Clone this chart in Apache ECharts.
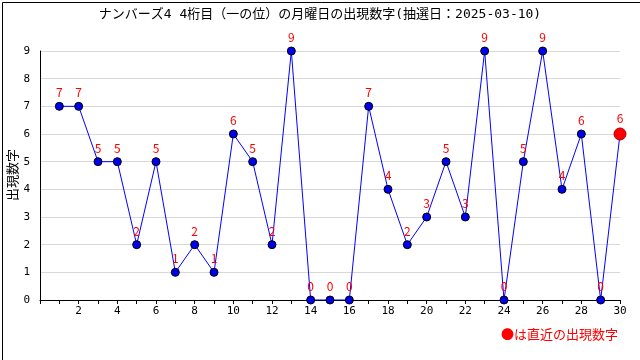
<!DOCTYPE html>
<html><head><meta charset="utf-8">
<script src="https://cdn.jsdelivr.net/npm/echarts@6/dist/echarts.min.js"></script>
<style>html,body{margin:0;padding:0;background:#fff}#c{width:640px;height:360px}</style>
</head><body><div id="c"></div>
<script>
const titleText = 'ナンバーズ4 4桁目（一の位）の月曜日の出現数字(抽選日：2025-03-10)';
const yAxisName = '出現数字';
const legendNote = '●は直近の出現数字';
const drawIndex = [1,2,3,4,5,6,7,8,9,10,11,12,13,14,15,16,17,18,19,20,21,22,23,24,25,26,27,28,29,30];
const digits = [7,7,5,5,2,5,1,2,1,6,5,2,9,0,0,0,7,4,2,3,5,3,9,0,5,9,4,6,0,6];

const chart = echarts.init(document.getElementById('c'));
const lastIdx = digits.length - 1;
const data = drawIndex.map((x, i) => {
  const d = { value: [x, digits[i]] };
  if (i === lastIdx) {
    d.symbolSize = 12;
    d.itemStyle = { color: '#ff0000', borderColor: '#aa0000', borderWidth: 1 };
  }
  return d;
});
const font = '"DejaVu Sans Mono", "Noto Sans CJK JP", monospace';
const cjk = '"Noto Sans CJK JP", sans-serif';
chart.setOption({
  animation: false,
  backgroundColor: '#fff',
  textStyle: { fontFamily: font },
  title: {
    text: titleText, left: 'center', top: 3,
    textStyle: { fontSize: 13, fontWeight: 'normal', color: '#000', fontFamily: font }
  },
  grid: { left: 40, right: 20, top: 51, bottom: 60, containLabel: false, outerBoundsMode: 'none' },
  xAxis: {
    type: 'value', min: 0, max: 30, interval: 1,
    axisLine: { lineStyle: { color: '#000', width: 1 } },
    axisTick: { show: true, length: 4, lineStyle: { color: '#000' } },
    axisLabel: { color: '#000', fontSize: 11, margin: 6, fontFamily: font,
      formatter: v => (v > 0 && v % 2 === 0) ? String(v) : '' },
    splitLine: { show: false }
  },
  yAxis: {
    type: 'value', min: 0, max: 9, interval: 1,
    axisLine: { show: true, lineStyle: { color: '#000', width: 1 } },
    axisTick: { show: false },
    axisLabel: { color: '#000', fontSize: 11, margin: 10, fontFamily: font },
    splitLine: { show: true, lineStyle: { color: '#d8d8d8', width: 1 } }
  },
  series: [{
    type: 'line',
    data: data,
    symbol: 'circle', symbolSize: 8,
    lineStyle: { color: '#0000ff', width: 1 },
    itemStyle: { color: '#0000ee', borderColor: '#000', borderWidth: 1 },
    label: { show: true, position: 'top', distance: 3, color: '#ff0000', fontSize: 12,
      fontFamily: cjk, formatter: p => String(p.value[1]) },
    z: 3
  }],
  graphic: [
    { type: 'rect', left: 0, top: 0, shape: { width: 639, height: 359 },
      style: { fill: 'none', stroke: '#000', lineWidth: 1 }, silent: true, z: 10 },
    { type: 'text', x: 12, y: 175, rotation: Math.PI / 2,
      style: { text: yAxisName, fill: '#000', font: '13px ' + cjk,
        textAlign: 'center', textVerticalAlign: 'middle' } },
    { type: 'text', right: 22, top: 328,
      style: { text: legendNote, fill: '#ff0000', font: '13px ' + cjk } }
  ]
});
</script></body></html>
